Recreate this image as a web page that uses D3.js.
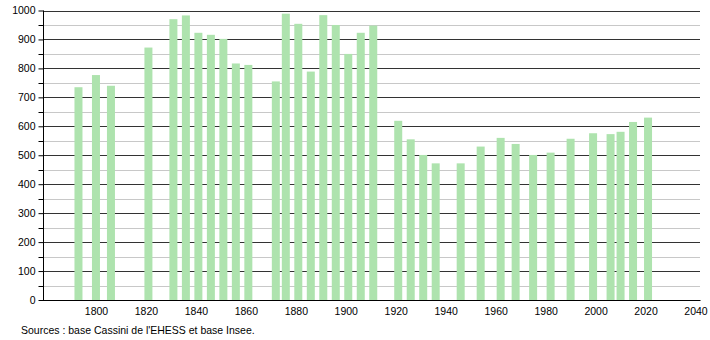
<!DOCTYPE html>
<html><head><meta charset="utf-8">
<script src="https://cdn.jsdelivr.net/npm/d3@7"></script>
<style>body{margin:0;background:#fff;} svg{display:block;font-family:"Liberation Sans",Arial,sans-serif;}</style>
</head><body>
<svg id="c" width="710" height="340"></svg>
<script>
const years = [1793,1800,1806,1821,1831,1836,1841,1846,1851,1856,1861,1872,1876,1881,1886,1891,1896,1901,1906,1911,1921,1926,1931,1936,1946,1954,1962,1968,1975,1982,1990,1999,2006,2010,2015,2021];
const population = [735,777,740,872,970,983,923,916,902,817,812,755,989,954,789,984,950,850,923,948,619,555,501,472,472,530,560,539,501,509,557,576,573,581,615,630];
const xTicks = [1800,1820,1840,1860,1880,1900,1920,1940,1960,1980,2000,2020,2040];
const yTicks = [0,100,200,300,400,500,600,700,800,900,1000];
const yMinor = [50,150,250,350,450,550,650,750,850,950];
const source = "Sources : base Cassini de l'EHESS et base Insee.";

const svg = d3.select("#c");
const x = d3.scaleLinear().domain([1779,2042]).range([43.5,700.5]);
const y = d3.scaleLinear().domain([0,1000]).range([300,10.5]);
const bw = 8;

// minor grid
svg.append("g").selectAll("line").data(yMinor).join("line")
  .attr("x1",44).attr("x2",700).attr("y1",d=>Math.round(y(d))+0.5).attr("y2",d=>Math.round(y(d))+0.5)
  .attr("stroke","#c8c8c8").attr("stroke-width",1);
// major grid
svg.append("g").selectAll("line").data(yTicks.slice(1)).join("line")
  .attr("x1",44).attr("x2",700).attr("y1",d=>Math.round(y(d))+0.5).attr("y2",d=>Math.round(y(d))+0.5)
  .attr("stroke","#333").attr("stroke-width",1);

// bars
svg.append("g").selectAll("rect").data(years).join("rect")
  .attr("x",(d)=>x(d)-bw/2).attr("width",bw)
  .attr("y",(d,i)=>y(population[i])).attr("height",(d,i)=>y(0)-y(population[i]))
  .attr("fill","#aee3ae");

// y axis
const ya = d3.axisLeft(y).tickValues(yTicks).tickSize(5).tickPadding(3).tickFormat(d3.format("d"));
const yg = svg.append("g").attr("transform","translate(43.5,0)").call(ya);
yg.selectAll(".tick line").attr("stroke","#000");
yg.select(".domain").attr("stroke","#000").attr("d","M0,10.5V300.5");
yg.selectAll("text").attr("font-size","10.5px").attr("fill","#000").attr("font-family","Liberation Sans, Arial, sans-serif");
svg.append("g").selectAll("line").data(yMinor).join("line")
  .attr("x1",38.5).attr("x2",43.5).attr("y1",d=>Math.round(y(d))+0.5).attr("y2",d=>Math.round(y(d))+0.5)
  .attr("stroke","#000");

// x axis
const xa = d3.axisBottom(x).tickValues(xTicks).tickSize(0).tickPadding(7).tickFormat(d3.format("d"));
const xg = svg.append("g").attr("transform","translate(0,300.5)").call(xa);
xg.select(".domain").attr("stroke","#000").attr("d","M39,0H700.5");
xg.selectAll("text").attr("font-size","10.5px").attr("fill","#000").attr("font-family","Liberation Sans, Arial, sans-serif");

svg.append("text").attr("x",21).attr("y",333.5).attr("font-size","10.5px").attr("fill","#000").text(source);
</script>
</body></html>
